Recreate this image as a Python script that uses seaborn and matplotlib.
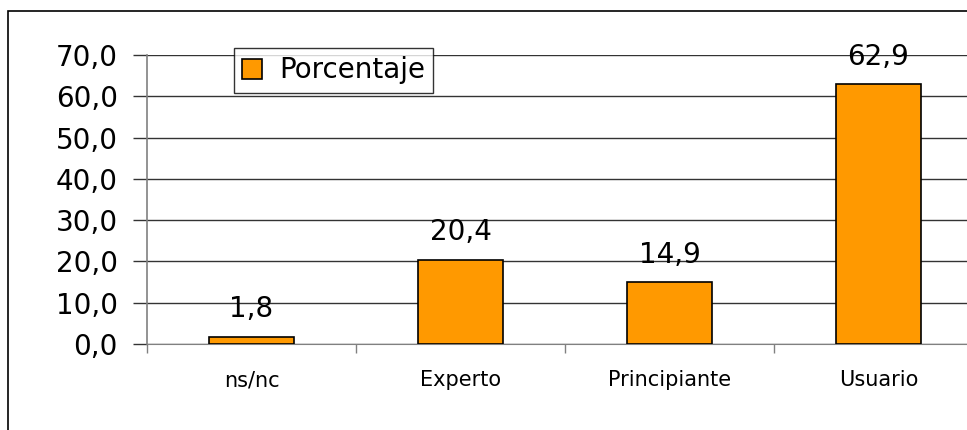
import matplotlib
matplotlib.use("Agg")
import matplotlib.pyplot as plt
import seaborn as sns
import pandas as pd
from matplotlib.patches import Rectangle, Patch
from matplotlib.ticker import FuncFormatter, FixedLocator

categories = ["ns/nc", "Experto", "Principiante", "Usuario"]
values = [1.8, 20.4, 14.9, 62.9]
series_name = "Porcentaje"

sns.set_style("white")
plt.rcParams['font.family'] = ['DejaVu Sans']
plt.rcParams['text.color'] = 'black'
plt.rcParams['xtick.labelcolor'] = 'black'
plt.rcParams['ytick.labelcolor'] = 'black'

df = pd.DataFrame({"cat": categories, "val": values})

fig = plt.figure(figsize=(9.67, 4.30), dpi=100)
ax = fig.add_axes([147/967, 1-344/430, 836/967, (344-55)/430])

sns.barplot(data=df, x="cat", y="val", ax=ax, color="#FF9900", width=0.41,
            edgecolor="black", linewidth=1.2, saturation=1, zorder=3)

ax.set_ylim(0, 70)
ax.set_xlim(-0.5, 3.5)
ax.set_yticks(range(0, 71, 10))
ax.yaxis.set_major_formatter(FuncFormatter(lambda v, p: f"{v:.1f}".replace(".", ",")))
ax.grid(axis="y", color="#333333", linewidth=1, zorder=0)
ax.set_axisbelow(True)
ax.set_xlabel("")
ax.set_ylabel("")

for s in ["top", "right"]:
    ax.spines[s].set_visible(False)
ax.spines["left"].set_color("#808080")
ax.spines["bottom"].set_color("#808080")
ax.spines["left"].set_linewidth(1.2)

ax.tick_params(axis="y", which="major", direction="out", length=10, width=1,
               color="#333333", labelsize=20, pad=11, left=True)
ax.xaxis.set_major_locator(FixedLocator([-0.5, 0.5, 1.5, 2.5, 3.5]))
ax.xaxis.set_minor_locator(FixedLocator([0, 1, 2, 3]))
ax.set_xticklabels([], minor=False)
ax.set_xticklabels(categories, minor=True)
ax.tick_params(axis="x", which="major", direction="out", length=6.5, width=1,
               color="#808080", bottom=True)
ax.tick_params(axis="x", which="minor", length=0, labelsize=15, pad=19)

for i, v in enumerate(values):
    ax.text(i, v + 4.7, f"{v:.1f}".replace(".", ","), ha="center", va="baseline",
            fontsize=20, zorder=4)

leg = ax.legend(handles=[Patch(facecolor="#FF9900", edgecolor="black", linewidth=1.2, label=series_name)],
                loc="upper left", bbox_to_anchor=((234-147)/836, (344-48)/289),
                fontsize=20, frameon=True, fancybox=False, edgecolor="black",
                handlelength=0.7, handleheight=0.73, handletextpad=0.62,
                borderpad=0.3, borderaxespad=0)
leg.get_frame().set_linewidth(1)

fig.patches.append(Rectangle((8/967, -0.1), 1.2, 1 - 11/430 + 0.1, transform=fig.transFigure,
                             fill=False, edgecolor="black", linewidth=1.2))

fig.savefig("out.png", dpi=100)
